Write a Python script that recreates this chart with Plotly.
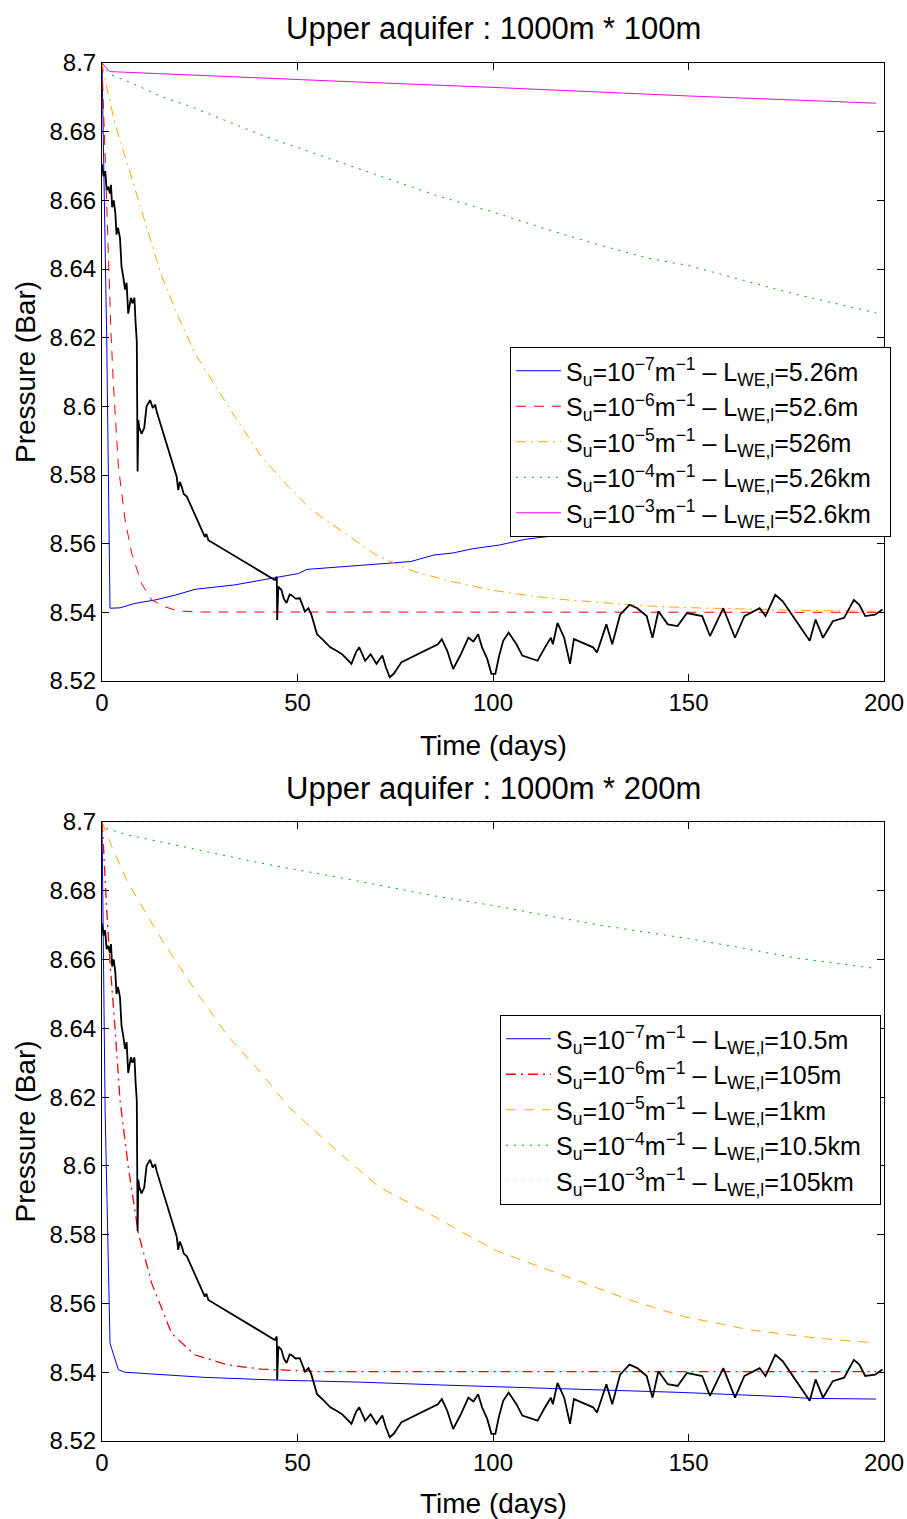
import plotly.graph_objects as go

# ---------------- data ----------------
obs_days = [0, 0.4, 0.8, 1.2, 1.6, 2.0, 2.3, 2.6, 3.0, 3.4, 3.7, 4.1, 4.6, 5.0, 5.4, 5.9, 6.3, 6.7, 7.0, 7.4,
            7.8, 8.3, 8.6, 8.9, 9.1, 9.3, 9.5, 10.1, 10.8, 11.4, 12.3, 13.0, 13.6, 14.0, 19.1, 19.5, 19.9, 20.4,
            20.9, 21.7, 26.3, 26.7, 27.2, 44.2, 44.7, 44.8, 45.1, 45.9, 46.5, 47.2, 48.0, 48.5, 49.5, 50.6, 51.9,
            52.8, 53.5, 55.0, 56.5, 58.4, 60.0, 61.4, 62.5, 63.8, 65.0, 65.8, 67.3, 68.7, 70.2, 71.7, 72.6, 73.6,
            74.6, 75.5, 76.6, 85.9, 86.9, 88.3, 89.8, 91.8, 93.7, 95.0, 96.2, 97.2, 98.5, 99.6, 100.6, 101.5,
            102.6, 104.0, 106.0, 107.5, 111.4, 113.3, 114.8, 115.3, 116.5, 118.2, 119.7, 120.7, 125.6, 126.6,
            129.0, 130.5, 132.5, 134.9, 136.9, 139.3, 140.8, 142.3, 144.7, 147.2, 149.6, 153.5, 155.5, 158.9,
            161.9, 164.3, 168.2, 169.7, 172.2, 174.1, 176.0, 178.1, 181.0, 182.5, 184.4, 186.9, 189.8, 192.3,
            193.7, 195.2, 197.7, 199.6]
obs_pres = [8.6705, 8.667, 8.6685, 8.663, 8.664, 8.662, 8.6645, 8.658, 8.660, 8.6565, 8.650, 8.652, 8.649,
            8.6406, 8.638, 8.634, 8.636, 8.627, 8.629, 8.6316, 8.630, 8.6316, 8.624, 8.619, 8.581, 8.596, 8.594,
            8.592, 8.5937, 8.600, 8.6018, 8.5995, 8.6005, 8.5984, 8.5795, 8.5756, 8.578, 8.5766, 8.5745, 8.5737,
            8.562, 8.5628, 8.561, 8.5494, 8.5504, 8.5378, 8.5475, 8.5465, 8.5440, 8.5427, 8.5452, 8.545, 8.5440,
            8.5441, 8.5402, 8.5412, 8.5395, 8.5336, 8.5320, 8.5298, 8.5288, 8.5278, 8.5265, 8.525, 8.5285,
            8.5298, 8.5259, 8.5278, 8.525, 8.5274, 8.524, 8.5211, 8.5221, 8.5235, 8.5255, 8.5307, 8.5322, 8.5288,
            8.5235, 8.5278, 8.5326, 8.5315, 8.5336, 8.5298, 8.5265, 8.5221, 8.5221, 8.527, 8.5317, 8.5341,
            8.5307, 8.5274, 8.5259, 8.5298, 8.5326, 8.5307, 8.5369, 8.5326, 8.525, 8.5322, 8.5298, 8.5283,
            8.5365, 8.5307, 8.5393, 8.5422, 8.5412, 8.5389, 8.5326, 8.5403, 8.5365, 8.536, 8.5398, 8.5389,
            8.5331, 8.5412, 8.5326, 8.5389, 8.5412, 8.5389, 8.5451, 8.5432, 8.540, 8.5365, 8.5317, 8.5379,
            8.5326, 8.5374, 8.5384, 8.5436, 8.5422, 8.5389, 8.5393, 8.5408]

# Top panel (1000m * 100m)
top_blue_t = [0, 1.2, 2.05, 4.6, 8.4, 13.6, 18.7, 23.8, 34, 44.2, 50.2, 52.4, 62.1, 65.3, 79.0, 84.9, 89.8,
              94.7, 101.6, 108.4, 150, 198]
top_blue_p = [8.7, 8.62, 8.5412, 8.5413, 8.5426, 8.5436, 8.545, 8.5467, 8.548, 8.550, 8.5513, 8.5525, 8.5533,
              8.5535, 8.5548, 8.5567, 8.5573, 8.5585, 8.5596, 8.5613, 8.567, 8.574]
top_red_t = [0, 0.5, 1.2, 1.6, 2.3, 2.9, 4.2, 5.9, 7.6, 10.1, 12.7, 16.1, 19.5, 25, 198]
top_red_p = [8.7, 8.683, 8.660, 8.6407, 8.6214, 8.6067, 8.5824, 8.5669, 8.5572, 8.5484, 8.5436, 8.5416,
             8.5404, 8.5401, 8.5400]
top_orange_t = [0, 1.2, 3.3, 6.7, 11, 15.3, 19.5, 23.8, 28, 34, 40.8, 47.7, 53.6, 61, 70.2, 80, 89.8, 99.6,
                109.4, 119.2, 129, 138.8, 148.6, 158.4, 168.2, 178.1, 198]
top_orange_p = [8.7, 8.6931, 8.6824, 8.6698, 8.6533, 8.6378, 8.6261, 8.6154, 8.6077, 8.597, 8.5853, 8.5766,
                8.5698, 8.564, 8.5566, 8.5518, 8.5489, 8.5465, 8.5448, 8.5436, 8.5427, 8.5419, 8.5414, 8.5411,
                8.5408, 8.5406, 8.5403]
top_green_t = [0, 0.77, 2.5, 6.7, 15.3, 23.8, 32.3, 40.8, 49.4, 58.2, 71.9, 85.6, 100, 113.1, 126.8, 140.6,
               150, 163.5, 177.2, 198]
top_green_p = [8.7, 8.6984, 8.6965, 8.6946, 8.6902, 8.6868, 8.6829, 8.679, 8.6756, 8.6721, 8.6668, 8.6614,
               8.6566, 8.6518, 8.6471, 8.6429, 8.641, 8.6368, 8.6327, 8.6272]
top_magenta_t = [0, 2, 58.2, 100, 150, 198]
top_magenta_p = [8.7, 8.6975, 8.6948, 8.6929, 8.6904, 8.6883]

# Bottom panel (1000m * 200m)
bot_blue_t = [0, 0.8, 2.05, 4.2, 5.9, 26.3, 45.1, 66.4, 89, 100.5, 123, 148.7, 174.2, 181, 198]
bot_blue_p = [8.7, 8.616, 8.5484, 8.5407, 8.54, 8.5385, 8.5377, 8.5371, 8.5362, 8.5358, 8.5349, 8.5341,
              8.5329, 8.5324, 8.5322]
bot_red_t = [0, 0.34, 1.2, 2, 3.3, 4.6, 6.7, 9.3, 12.7, 17.8, 23.8, 32.3, 40.8, 55, 198]
bot_red_p = [8.7, 8.6938, 8.6744, 8.6599, 8.6405, 8.6192, 8.5998, 8.5804, 8.5659, 8.5513, 8.545, 8.5421,
             8.5409, 8.5402, 8.5402]
bot_orange_t = [0, 0.34, 2.5, 6.7, 15.3, 23.8, 32.3, 40.8, 47.7, 57.9, 70.7, 83.5, 100.5, 135, 148.7, 165.7,
                182.8, 198]
bot_orange_p = [8.7, 8.6991, 8.6928, 8.6822, 8.6657, 8.6511, 8.6376, 8.6269, 8.6172, 8.6066, 8.594, 8.5862,
                8.5755, 8.561, 8.5562, 8.5523, 8.5499, 8.5485]
bot_green_t = [0, 0.77, 6.7, 23.8, 40.8, 58.2, 71.9, 85.6, 100, 113.1, 126.8, 140.6, 150, 163.5, 177.2, 198]
bot_green_p = [8.7, 8.6982, 8.6962, 8.6921, 8.688, 8.6844, 8.6814, 8.6784, 8.6757, 8.673, 8.6701, 8.6677,
               8.6661, 8.6634, 8.6605, 8.6574]
bot_faint_t = [0, 2, 100, 198]
bot_faint_p = [8.7, 8.6998, 8.6996, 8.6994]

top_names = [
    "S<sub>u</sub>=10<sup>−7</sup>m<sup>−1</sup> – L<sub>WE,l</sub>=5.26m",
    "S<sub>u</sub>=10<sup>−6</sup>m<sup>−1</sup> – L<sub>WE,l</sub>=52.6m",
    "S<sub>u</sub>=10<sup>−5</sup>m<sup>−1</sup> – L<sub>WE,l</sub>=526m",
    "S<sub>u</sub>=10<sup>−4</sup>m<sup>−1</sup> – L<sub>WE,l</sub>=5.26km",
    "S<sub>u</sub>=10<sup>−3</sup>m<sup>−1</sup> – L<sub>WE,l</sub>=52.6km",
]
bot_names = [
    "S<sub>u</sub>=10<sup>−7</sup>m<sup>−1</sup> – L<sub>WE,l</sub>=10.5m",
    "S<sub>u</sub>=10<sup>−6</sup>m<sup>−1</sup> – L<sub>WE,l</sub>=105m",
    "S<sub>u</sub>=10<sup>−5</sup>m<sup>−1</sup> – L<sub>WE,l</sub>=1km",
    "S<sub>u</sub>=10<sup>−4</sup>m<sup>−1</sup> – L<sub>WE,l</sub>=10.5km",
    "S<sub>u</sub>=10<sup>−3</sup>m<sup>−1</sup> – L<sub>WE,l</sub>=105km",
]
titles = ["Upper aquifer : 1000m * 100m", "Upper aquifer : 1000m * 200m"]
x_ticks = [0, 50, 100, 150, 200]
y_ticks = [8.52, 8.54, 8.56, 8.58, 8.6, 8.62, 8.64, 8.66, 8.68, 8.7]
y_ticktext = ["8.52", "8.54", "8.56", "8.58", "8.6", "8.62", "8.64", "8.66", "8.68", "8.7"]

# ---------------- styles ----------------
FONT = "Liberation Sans, Arial, Helvetica, sans-serif"
BLUE, RED, ORANGE, GREEN, MAGENTA, FAINT = "#0000ff", "#ff0000", "#ffa500", "#00a800", "#ff00ff", "#e4e4e4"
DASH = "10px,8px"
DASHDOT = "10px,5px,2px,5px"
DOT = "2px,6px"
PAD = "\u00a0\u00a0"

fig = go.Figure()

def add(t, p, name, color, dash, xa, ya, legend, width=1.0, show=True):
    fig.add_trace(go.Scatter(x=t, y=p, mode="lines", name=name + PAD, showlegend=show, legend=legend,
                             line=dict(color=color, width=width, dash=dash), xaxis=xa, yaxis=ya,
                             hoverinfo="skip"))

# top panel
add(top_blue_t, top_blue_p, top_names[0], BLUE, "solid", "x", "y", "legend")
add(top_red_t, top_red_p, top_names[1], RED, DASH, "x", "y", "legend")
add(top_orange_t, top_orange_p, top_names[2], ORANGE, DASHDOT, "x", "y", "legend")
add(top_green_t, top_green_p, top_names[3], GREEN, DOT, "x", "y", "legend")
add(top_magenta_t, top_magenta_p, top_names[4], MAGENTA, "solid", "x", "y", "legend")
add(obs_days, obs_pres, "data", "black", "solid", "x", "y", "legend", width=1.8, show=False)

# bottom panel
add(bot_blue_t, bot_blue_p, bot_names[0], BLUE, "solid", "x2", "y2", "legend2")
add(bot_red_t, bot_red_p, bot_names[1], RED, DASHDOT, "x2", "y2", "legend2", width=1.3)
add(bot_orange_t, bot_orange_p, bot_names[2], ORANGE, DASH, "x2", "y2", "legend2")
add(bot_green_t, bot_green_p, bot_names[3], GREEN, DOT, "x2", "y2", "legend2")
add(bot_faint_t, bot_faint_p, bot_names[4], FAINT, DOT, "x2", "y2", "legend2")
add(obs_days, obs_pres, "data", "black", "solid", "x2", "y2", "legend2", width=1.8, show=False)

W, H = 907, 1519
ML, MR, MT, MB = 102, 23, 63, 78
PH = H - MT - MB

def ypaper(py):
    return (H - MB - py) / PH

def xpaper(px):
    return (px - ML) / (W - ML - MR)

axis_common = dict(showline=True, linecolor="black", linewidth=1, mirror="ticks", ticks="inside",
                   ticklen=7, tickcolor="black", showgrid=False, zeroline=False,
                   tickfont=dict(family=FONT, size=24, color="black"))

legend_common = dict(xanchor="left", yanchor="top", bgcolor="white", bordercolor="black", borderwidth=1,
                     font=dict(family=FONT, size=25, color="black"), tracegroupgap=0, itemwidth=45)

fig.update_layout(
    width=W, height=H, margin=dict(l=ML, r=MR, t=MT, b=MB, autoexpand=False),
    plot_bgcolor="white", paper_bgcolor="white",
    font=dict(family=FONT, color="black"),
    xaxis=dict(domain=[0, 1], range=[0, 200], tickvals=x_ticks, anchor="y", **axis_common),
    yaxis=dict(domain=[ypaper(681), 1], range=[8.52, 8.7], tickvals=y_ticks, ticktext=y_ticktext,
               anchor="x", **axis_common),
    xaxis2=dict(domain=[0, 1], range=[0, 200], tickvals=x_ticks, anchor="y2", **axis_common),
    yaxis2=dict(domain=[0, ypaper(822)], range=[8.52, 8.7], tickvals=y_ticks, ticktext=y_ticktext,
                anchor="x2", **axis_common),
    legend=dict(x=xpaper(510), y=ypaper(347), **legend_common),
    legend2=dict(x=xpaper(500), y=ypaper(1015), **legend_common),
    showlegend=True,
)

ann = []
for title, py in zip(titles, [28, 789]):
    ann.append(dict(text=title, x=0.5, y=ypaper(py), xref="paper", yref="paper", showarrow=False,
                    xanchor="center", yanchor="middle", font=dict(family=FONT, size=31, color="black")))
for py in [745, 1503]:
    ann.append(dict(text="Time (days)", x=0.5, y=ypaper(py), xref="paper", yref="paper", showarrow=False,
                    xanchor="center", yanchor="middle", font=dict(family=FONT, size=28, color="black")))
for py in [372, 1131.5]:
    ann.append(dict(text="Pressure (Bar)", x=xpaper(25), y=ypaper(py), xref="paper", yref="paper",
                    showarrow=False, textangle=-90, xanchor="center", yanchor="middle",
                    font=dict(family=FONT, size=28, color="black")))
fig.update_layout(annotations=ann)

fig.write_html("out.html", config={"displayModeBar": False},
               post_script="document.body.style.margin='0';")
